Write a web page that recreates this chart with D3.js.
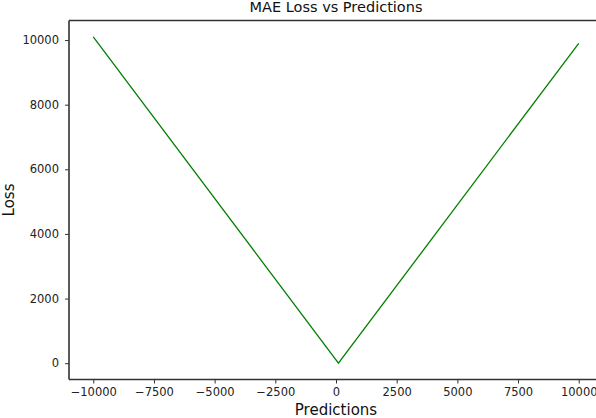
<!DOCTYPE html>
<html>
<head>
<meta charset="utf-8">
<script src="https://cdn.jsdelivr.net/npm/d3@7"></script>
<style>
  body { margin: 0; background: #fff; }
  svg { display: block; font-family: "DejaVu Sans", sans-serif; }
</style>
</head>
<body>
<svg id="chart" width="596" height="418"></svg>
<script>
// values
const predictions = [-10000, 100, 10000];
const loss = [10100, 0, 9900];
const xTicks = [-10000, -7500, -5000, -2500, 0, 2500, 5000, 7500, 10000];
const yTicks = [0, 2000, 4000, 6000, 8000, 10000];

const svg = d3.select("#chart");

const plotLeft = 69, plotRight = 603, plotTop = 20.5, plotBottom = 379.5;

const x = d3.scaleLinear().domain([-11000, 11000]).range([plotLeft, plotRight]);
const y = d3.scaleLinear().domain([-505, 10605]).range([plotBottom, plotTop]);

const fmt = d3.format("d");

// line
const pts = predictions.map((p, i) => [p, loss[i]]);
svg.append("path")
    .datum(pts)
    .attr("fill", "none")
    .attr("stroke", "#008000")
    .attr("stroke-width", 1.3)
    .attr("d", d3.line().x(d => x(d[0])).y(d => y(d[1])));

// axes
const xAxis = svg.append("g")
    .attr("transform", `translate(0,${plotBottom})`)
    .call(d3.axisBottom(x).tickValues(xTicks).tickFormat(fmt).tickSizeOuter(0).tickSize(4).tickPadding(4));

const yAxis = svg.append("g")
    .attr("transform", `translate(${plotLeft},0)`)
    .call(d3.axisLeft(y).tickValues(yTicks).tickFormat(fmt).tickSizeOuter(0).tickSize(4).tickPadding(6));

[xAxis, yAxis].forEach(g => {
    g.select(".domain").remove();
    g.selectAll("text")
        .attr("font-family", "DejaVu Sans, sans-serif")
        .attr("font-size", 11.5)
        .attr("fill", "#222");
    g.selectAll("line").attr("stroke", "#333");
});

// spines: left, bottom, top
const spine = (x1, y1, x2, y2) => svg.append("line")
    .attr("x1", x1).attr("y1", y1).attr("x2", x2).attr("y2", y2)
    .attr("stroke", "#333").attr("stroke-width", 1.6);
spine(plotLeft, plotTop, plotLeft, plotBottom);
spine(plotLeft, plotBottom, plotRight, plotBottom);
spine(plotLeft, plotTop, plotRight, plotTop);

// title + labels
svg.append("text")
    .attr("x", (plotLeft + plotRight) / 2)
    .attr("y", 12)
    .attr("text-anchor", "middle")
    .attr("font-size", 14.5)
    .attr("fill", "#111")
    .text("MAE Loss vs Predictions");

svg.append("text")
    .attr("x", (plotLeft + plotRight) / 2)
    .attr("y", 415)
    .attr("text-anchor", "middle")
    .attr("font-size", 15)
    .attr("fill", "#111")
    .text("Predictions");

svg.append("text")
    .attr("transform", `translate(14,${(plotTop + plotBottom) / 2}) rotate(-90)`)
    .attr("text-anchor", "middle")
    .attr("font-size", 15)
    .attr("fill", "#111")
    .text("Loss");
</script>
</body>
</html>
